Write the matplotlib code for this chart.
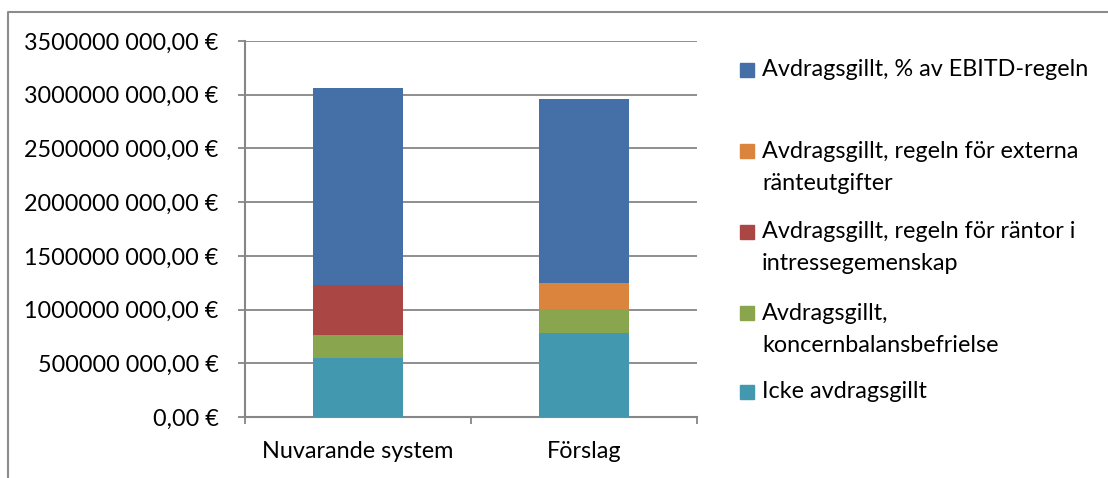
import matplotlib
matplotlib.use("Agg")
import matplotlib.pyplot as plt
from matplotlib.patches import Rectangle
from matplotlib.lines import Line2D

# ---------------------------------------------------------
# Data
# ---------------------------------------------------------
categories = ["Nuvarande system", "Förslag"]

icke_avdragsgillt = [550e6, 786e6]
koncernbalans = [211e6, 217e6]
rantor_intresse = [466e6, 0]
externa_rantor = [0, 242e6]
ebitd_regeln = [1839e6, 1712e6]

y_ticks = [0, 500e6, 1000e6, 1500e6, 2000e6, 2500e6, 3000e6, 3500e6]

series = [
    ("Icke avdragsgillt", icke_avdragsgillt, "#4198AF"),
    ("Avdragsgillt,\nkoncernbalansbefrielse", koncernbalans, "#89A54E"),
    ("Avdragsgillt, regeln för räntor i\nintressegemenskap", rantor_intresse, "#AA4643"),
    ("Avdragsgillt, regeln för externa\nränteutgifter", externa_rantor, "#DB843D"),
    ("Avdragsgillt, % av EBITD-regeln", ebitd_regeln, "#4570A7"),
]

FONT = "Lato"
FS = 16.8
GRID = "#868686"


def euro_label(v):
    s = str(int(round(v)))
    if len(s) > 3:
        s = s[:-3] + " " + s[-3:]
    return s + ",00 €"


fig = plt.figure(figsize=(11.08, 4.78), dpi=100)
W, H = 1108, 478
ax = fig.add_axes([245 / W, 1 - 417 / H, 452 / W, 376 / H])

x = list(range(len(categories)))
bottom = [0.0] * len(categories)
for label, vals, color in series:
    ax.bar(x, vals, width=0.4, bottom=bottom, color=color, zorder=3)
    bottom = [b + v for b, v in zip(bottom, vals)]

ax.set_xlim(-0.5, len(categories) - 0.5)
ax.set_ylim(0, 3500e6)

ax.set_yticks(y_ticks)
ax.set_yticklabels([euro_label(v) for v in y_ticks], fontfamily=FONT, fontsize=FS)
ax.yaxis.grid(True, color=GRID, linewidth=1.3, zorder=0)
ax.tick_params(axis="y", length=5, width=1.3, color=GRID, pad=14)

ax.set_xticks([-0.5, 0.5, 1.5])
ax.set_xticklabels([])
ax.set_xticks(x, minor=True)
ax.set_xticklabels(categories, minor=True, fontfamily=FONT, fontsize=FS)
ax.tick_params(axis="x", which="major", length=5, width=1.3, color=GRID)
ax.tick_params(axis="x", which="minor", length=0, pad=17)

for side in ["top", "right"]:
    ax.spines[side].set_visible(False)
for side in ["left", "bottom"]:
    ax.spines[side].set_color(GRID)
    ax.spines[side].set_linewidth(1.5)

# ---------------------------------------------------------
# Legend drawn by hand (marker on first line, like Excel)
# ---------------------------------------------------------
legend_rows = [70, 151, 232, 313, 392]
for (label, vals, color), yc in zip(series[::-1], legend_rows):
    fig.add_artist(Rectangle((740 / W, 1 - (yc + 7) / H), 14 / W, 14 / H,
                             transform=fig.transFigure, color=color))
    for i, line in enumerate(label.split("\n")):
        fig.text(762 / W, 1 - (yc + 32 * i) / H, line, fontfamily=FONT,
                 fontsize=FS, va="center", ha="left")

# outer chart border (left and top edge)
fig.add_artist(Line2D([8 / W, 8 / W, 1.0], [0.0, 1 - 12 / H, 1 - 12 / H],
                      transform=fig.transFigure, color="#8C8C8C", linewidth=1.5))

fig.savefig("out.png", dpi=100)
